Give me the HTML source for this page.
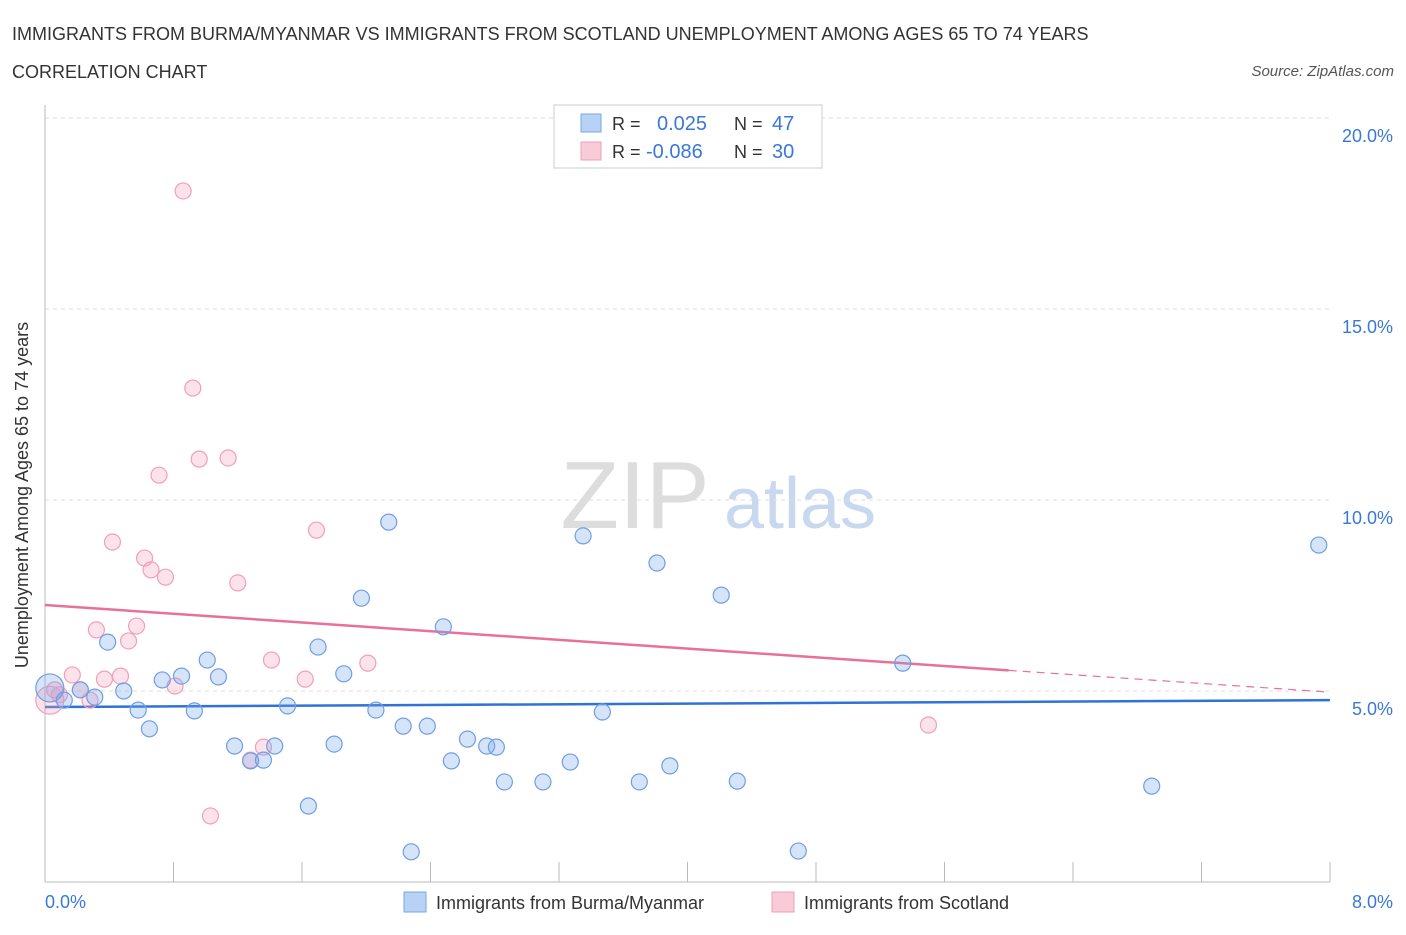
<!DOCTYPE html>
<html><head><meta charset="utf-8"><style>
body{margin:0;background:#fff;font-family:"Liberation Sans",sans-serif;}
svg text{font-family:"Liberation Sans",sans-serif;}
</style></head><body>
<svg id="chart" width="1406" height="930">
<text x="12" y="40" font-size="18" fill="#333">IMMIGRANTS FROM BURMA/MYANMAR VS IMMIGRANTS FROM SCOTLAND UNEMPLOYMENT AMONG AGES 65 TO 74 YEARS</text>
<text x="12" y="78" font-size="18" fill="#333">CORRELATION CHART</text>
<text x="1394" y="76" font-size="15" fill="#555" font-style="italic" text-anchor="end">Source: ZipAtlas.com</text>
<text x="635" y="528" font-size="96" fill="#ddd" font-family="Liberation Serif" text-anchor="middle">ZIP</text>
<text x="800" y="528" font-size="72" fill="#c8d8ee" text-anchor="middle">atlas</text>
<g id="grid"></g><g id="axes"></g><g id="trend"></g><g id="points"></g>
<text x="28" y="495" font-size="18" fill="#333" text-anchor="middle" transform="rotate(-90 28 495)">Unemployment Among Ages 65 to 74 years</text>
<text x="45" y="908" font-size="18" fill="#3a78d8">0.0%</text>
<text x="1393" y="908" font-size="18" fill="#3a78d8" text-anchor="end">8.0%</text>
<g>
<rect x="554" y="105" width="268" height="63" fill="#fff" stroke="#ccc"/>
<rect x="581" y="114" width="20" height="18" fill="#b8d2f6" stroke="#7aa7e6"/>
<text x="612" y="130" font-size="18" fill="#333">R =</text><text x="657" y="130" font-size="20" fill="#3a78d8">0.025</text>
<text x="734" y="130" font-size="18" fill="#333">N =</text><text x="772" y="130" font-size="20" fill="#3a78d8">47</text>
<rect x="581" y="142" width="20" height="18" fill="#f9cad8" stroke="#f0a0b8"/>
<text x="612" y="158" font-size="18" fill="#333">R =</text><text x="646" y="158" font-size="20" fill="#3a78d8">-0.086</text>
<text x="734" y="158" font-size="18" fill="#333">N =</text><text x="772" y="158" font-size="20" fill="#3a78d8">30</text>
</g>
<g>
<rect x="404" y="892" width="22" height="20" fill="#b8d2f6" stroke="#7aa7e6"/>
<text x="436" y="909" font-size="18" fill="#333">Immigrants from Burma/Myanmar</text>
<rect x="772" y="892" width="22" height="20" fill="#f9cad8" stroke="#f0a0b8"/>
<text x="804" y="909" font-size="18" fill="#333">Immigrants from Scotland</text>
</g>
</svg>
<script>
const yTicks=[5,10,15,20];
const yTickLabels=["5.0%","10.0%","15.0%","20.0%"];
const burmaX=[0.03,0.12,0.22,0.31,0.39,0.49,0.58,0.65,0.73,0.85,0.93,1.01,1.08,1.18,1.28,1.36,1.43,1.51,1.64,1.70,1.80,1.86,1.97,2.06,2.14,2.23,2.28,2.38,2.48,2.53,2.63,2.75,2.81,2.86,3.10,3.27,3.35,3.47,3.70,3.81,3.89,4.21,4.31,4.69,5.34,6.89,7.93];
const burmaY=[5.08,4.76,5.03,4.84,6.28,5.0,4.50,4.01,5.29,5.39,4.48,5.81,5.37,3.56,3.17,3.19,3.56,4.61,1.99,6.15,3.61,5.45,7.43,4.50,9.42,4.08,0.79,4.08,6.68,3.17,3.74,3.56,3.53,2.62,2.62,3.14,9.06,4.45,2.62,8.35,3.04,7.51,2.64,0.81,5.73,2.51,8.82];
const scotX=[0.03,0.06,0.17,0.22,0.28,0.32,0.37,0.42,0.47,0.52,0.57,0.62,0.66,0.71,0.75,0.81,0.86,0.92,0.96,1.03,1.14,1.20,1.28,1.36,1.41,1.62,1.69,2.01,5.50,0.09];
const scotY=[4.76,5.03,5.42,5.03,4.76,6.60,5.31,8.90,5.39,6.31,6.70,8.48,8.17,10.65,7.98,5.13,18.09,12.93,11.07,1.73,11.10,7.83,3.19,3.53,5.81,5.31,9.21,5.73,4.11,4.90];
const burmaTrend=[4.58,4.76];
const scotTrend=[7.25,4.97];
const NS="http://www.w3.org/2000/svg";
const X=v=>45+v/8*1285, Y=v=>882-v*38.2;
function mk(t,a,p){const e=document.createElementNS(NS,t);for(const k in a)e.setAttribute(k,a[k]);p.appendChild(e);return e;}
const grid=document.getElementById('grid'),axes=document.getElementById('axes'),trend=document.getElementById('trend'),pts=document.getElementById('points');
yTicks.forEach((t,i)=>{
 const l=mk('line',{x1:45,x2:1330,y1:Y(t),y2:Y(t),stroke:'#ddd','stroke-dasharray':'4,4'},grid);
 
 
 const tx=mk('text',{x:1393,y:Y(t)+24,'font-size':18,fill:'#3a78d8','text-anchor':'end'},grid);
 tx.textContent=yTickLabels[i];
 
 
});
const ax=mk('line',{x1:45,x2:45,y1:105,y2:882,stroke:'#bbb'},axes);


const bx=mk('line',{x1:45,x2:1330,y1:882,y2:882,stroke:'#bbb'},axes);


for(let i=0;i<=10;i++){const t=mk('line',{x1:X(i*0.8),x2:X(i*0.8),y1:862,y2:882,stroke:'#bbb'},axes);
 
 }
function dots(xs,ys,fill,stroke,name){xs.forEach((x,i)=>{
 const c=mk('circle',{cx:X(x),cy:Y(ys[i]),r:i===0?14:8,fill:fill,stroke:stroke,'stroke-width':1.2},pts);
 
 });}
dots(scotX,scotY,'rgba(244,160,188,0.3)','#f0a0b8','point-scotland');
dots(burmaX,burmaY,'rgba(120,165,235,0.3)','#6f9fe2','point-burma');
const bl=mk('line',{x1:X(0),y1:Y(burmaTrend[0]),x2:X(8),y2:Y(burmaTrend[1]),stroke:'#2f72d8','stroke-width':2.5},trend);


const s6=scotTrend[0]+(scotTrend[1]-scotTrend[0])*6/8;
const sl=mk('line',{x1:X(0),y1:Y(scotTrend[0]),x2:X(6),y2:Y(s6),stroke:'#e8709a','stroke-width':2.5},trend);


const sd=mk('line',{x1:X(6),y1:Y(s6),x2:X(8),y2:Y(scotTrend[1]),stroke:'#e8709a','stroke-width':1.2,'stroke-dasharray':'8,6'},trend);


</script>
</body></html>
